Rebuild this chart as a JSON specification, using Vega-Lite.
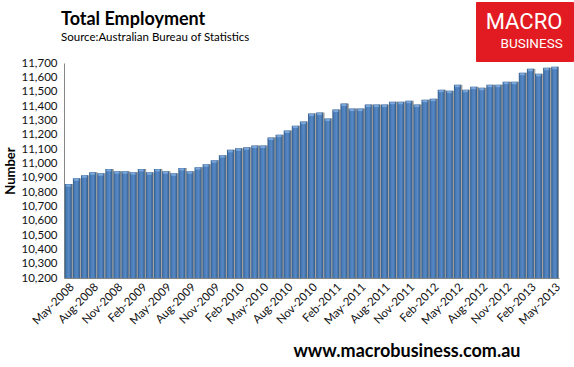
{
  "$schema": "https://vega.github.io/schema/vega-lite/v6.json",
  "width": 495,
  "height": 215,
  "autosize": "none",
  "padding": {"left": 64, "top": 63, "right": 15, "bottom": 89},
  "background": "white",
  "config": {
    "view": {"fill": "#f2f2f2", "stroke": null},
    "font": "Lato"
  },
  "title": {
    "text": "Total Employment",
    "subtitle": "Source:Australian Bureau of Statistics",
    "anchor": "start",
    "frame": "group",
    "font": "Lato",
    "fontSize": 18,
    "fontWeight": "bold",
    "color": "#000",
    "subtitleFont": "Lato",
    "subtitleFontSize": 11.5,
    "subtitleColor": "#000",
    "subtitlePadding": 3,
    "offset": -42,
    "dx": -3
  },
  "datasets": {
    "emp": [
      {"month": "May-2008", "value": 10855}, {"month": "Jun-2008", "value": 10896}, {"month": "Jul-2008", "value": 10917},
      {"month": "Aug-2008", "value": 10938}, {"month": "Sep-2008", "value": 10931}, {"month": "Oct-2008", "value": 10961},
      {"month": "Nov-2008", "value": 10945}, {"month": "Dec-2008", "value": 10945}, {"month": "Jan-2009", "value": 10938},
      {"month": "Feb-2009", "value": 10961}, {"month": "Mar-2009", "value": 10938}, {"month": "Apr-2009", "value": 10961},
      {"month": "May-2009", "value": 10945}, {"month": "Jun-2009", "value": 10931}, {"month": "Jul-2009", "value": 10968},
      {"month": "Aug-2009", "value": 10945}, {"month": "Sep-2009", "value": 10973}, {"month": "Oct-2009", "value": 10994},
      {"month": "Nov-2009", "value": 11022}, {"month": "Dec-2009", "value": 11057}, {"month": "Jan-2010", "value": 11094},
      {"month": "Feb-2010", "value": 11105}, {"month": "Mar-2010", "value": 11112}, {"month": "Apr-2010", "value": 11124},
      {"month": "May-2010", "value": 11124}, {"month": "Jun-2010", "value": 11180}, {"month": "Jul-2010", "value": 11200},
      {"month": "Aug-2010", "value": 11229}, {"month": "Sep-2010", "value": 11263}, {"month": "Oct-2010", "value": 11291},
      {"month": "Nov-2010", "value": 11347}, {"month": "Dec-2010", "value": 11354}, {"month": "Jan-2011", "value": 11312},
      {"month": "Feb-2011", "value": 11375}, {"month": "Mar-2011", "value": 11417}, {"month": "Apr-2011", "value": 11382},
      {"month": "May-2011", "value": 11382}, {"month": "Jun-2011", "value": 11410}, {"month": "Jul-2011", "value": 11410},
      {"month": "Aug-2011", "value": 11410}, {"month": "Sep-2011", "value": 11430}, {"month": "Oct-2011", "value": 11430},
      {"month": "Nov-2011", "value": 11437}, {"month": "Dec-2011", "value": 11410}, {"month": "Jan-2012", "value": 11444},
      {"month": "Feb-2012", "value": 11451}, {"month": "Mar-2012", "value": 11514}, {"month": "Apr-2012", "value": 11507},
      {"month": "May-2012", "value": 11549}, {"month": "Jun-2012", "value": 11514}, {"month": "Jul-2012", "value": 11535},
      {"month": "Aug-2012", "value": 11528}, {"month": "Sep-2012", "value": 11549}, {"month": "Oct-2012", "value": 11549},
      {"month": "Nov-2012", "value": 11570}, {"month": "Dec-2012", "value": 11570}, {"month": "Jan-2013", "value": 11632},
      {"month": "Feb-2013", "value": 11660}, {"month": "Mar-2013", "value": 11625}, {"month": "Apr-2013", "value": 11667},
      {"month": "May-2013", "value": 11674}
    ],
    "brand": [{"brand": "BUSINESS"}]
  },
  "layer": [
    {
      "data": {"name": "emp"},
      "encoding": {
        "x": {
          "field": "month", "type": "ordinal", "sort": null,
          "scale": {"paddingInner": 0.14, "paddingOuter": 0.1},
          "axis": {
            "values": ["May-2008","Aug-2008","Nov-2008","Feb-2009","May-2009","Aug-2009","Nov-2009","Feb-2010","May-2010","Aug-2010","Nov-2010","Feb-2011","May-2011","Aug-2011","Nov-2011","Feb-2012","May-2012","Aug-2012","Nov-2012","Feb-2013","May-2013"],
            "labelAngle": -45,
            "labelFont": "Lato",
            "labelFontSize": 11.5,
            "labelColor": "#111",
            "labelPadding": 3,
            "ticks": false,
            "domain": true,
            "domainColor": "#868686",
            "title": "www.macrobusiness.com.au",
            "titleFont": "Lato",
            "titleFontSize": 18,
            "titleFontWeight": "bold",
            "titleColor": "#000",
            "titleAnchor": "end",
            "titleAlign": "right",
            "titleBaseline": "alphabetic",
            "titleX": 456,
            "titleY": 78
          }
        },
        "y": {
          "field": "value", "type": "quantitative",
          "scale": {"domain": [10200, 11700], "zero": false, "nice": false},
          "axis": {
            "values": [10200,10300,10400,10500,10600,10700,10800,10900,11000,11100,11200,11300,11400,11500,11600,11700],
            "format": ",.0f",
            "grid": false,
            "ticks": false,
            "labelPadding": 7,
            "labelFont": "Lato",
            "labelFontSize": 11.5,
            "labelColor": "#111",
            "domainColor": "#868686",
            "title": "Number",
            "titleFont": "Lato",
            "titleFontSize": 13,
            "titleFontWeight": "bold",
            "titleColor": "#000",
            "titlePadding": 4
          }
        }
      },
      "layer": [
        {"mark": {"type": "bar", "color": "#a3a3a3", "xOffset": 1.5, "clip": true}},
        {
          "mark": {
            "type": "bar",
            "clip": true,
            "color": {
              "gradient": "linear", "x1": 0, "x2": 1, "y1": 0, "y2": 0,
              "stops": [
                {"offset": 0, "color": "#325b88"},
                {"offset": 0.25, "color": "#4a7cb8"},
                {"offset": 0.6, "color": "#5789c6"},
                {"offset": 1, "color": "#325b88"}
              ]
            }
          }
        },
        {
          "mark": {"type": "tick", "color": "#8fb6e6", "thickness": 2, "orient": "horizontal", "yOffset": 1.5},
          "encoding": {"size": {"value": 5}}
        }
      ]
    },
    {
      "data": {"name": "brand"},
      "mark": {"type": "point", "opacity": 0},
      "encoding": {
        "color": {
          "field": "brand", "type": "nominal",
          "scale": {"domain": ["BUSINESS"], "range": ["#ffffff"]},
          "legend": {
            "orient": "none",
            "legendX": 412,
            "legendY": -61,
            "title": "MACRO",
            "titleFont": "Roboto",
            "titleFontSize": 22,
            "titleFontWeight": "normal",
            "titleColor": "#ffffff",
            "titleAnchor": "middle",
            "titlePadding": 3,
            "titleLimit": 200,
            "fillColor": "#e21b22",
            "strokeColor": "#e21b22",
            "padding": 10,
            "symbolSize": 1,
            "symbolOpacity": 0,
            "symbolStrokeWidth": 0.01,
            "symbolOffset": 0,
            "labelOffset": 1,
            "labelColor": "#ffffff",
            "labelFont": "Roboto",
            "labelFontSize": 13.5
          }
        }
      }
    }
  ]
}
